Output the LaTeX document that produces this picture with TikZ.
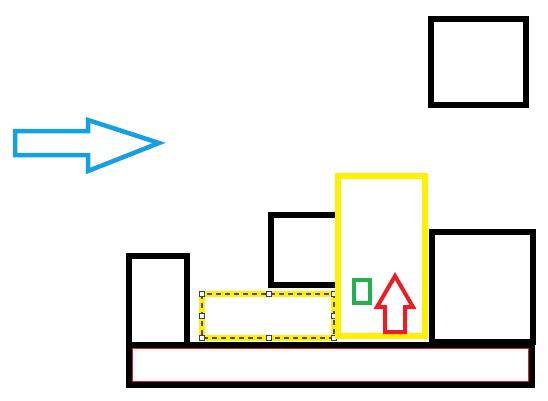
\documentclass[tikz,border=0pt]{standalone}
\definecolor{pblue}{RGB}{20,160,225}
\definecolor{pyellow}{RGB}{255,240,0}
\definecolor{pgreen}{RGB}{34,177,76}
\definecolor{pred}{RGB}{237,28,36}
\begin{document}
\begin{tikzpicture}[x=1pt,y=-1pt,
  blk/.style={draw=black,line width=6pt},
  handle/.style={draw=black!75,fill=white,line width=0.9pt,minimum size=5.5pt,inner sep=0pt,rectangle}]
\useasboundingbox (0,0) rectangle (548,400);
% blue arrow
\draw[pblue,line width=4.5pt,line join=miter] (15,131) -- (88,131) -- (88,120) -- (159,143) -- (88,171) -- (88,155) -- (15,155) -- cycle;
% top right square
\draw[blk] (431,19) rectangle (526,105);
% base bar
\draw[blk] (129,345) rectangle (532,385);
\draw[pred,line width=0.8pt] (132.5,348.5) rectangle (528.5,381.5);
% left box
\draw[blk] (129,256) rectangle (187,345);
% middle box
\draw[blk] (271,215) rectangle (338,285);
% right box
\draw[blk] (432,232) rectangle (533,342);
% dashed selection box
\draw[pyellow,line width=6pt] (202,294) rectangle (334,338);
\draw[black!70,line width=1.4pt,dash pattern=on 5pt off 4pt] (202,294) rectangle (334,338);
\foreach \hx/\hy [count=\i] in {202/294,269/294,334/294,202/316,334/316,202/338,269/338,334/338}
  \node[handle] (h\i) at (\hx,\hy) {};
% yellow tall box
\draw[pyellow,line width=6pt] (338,176) rectangle (425,336);
% green small rect
\draw[pgreen,line width=4.5pt] (354,280) rectangle (370,303);
% red arrow
\draw[pred,line width=4pt,line join=miter] (385,332) -- (385,307) -- (377,307) -- (395,276) -- (413,307) -- (405,307) -- (405,332) -- cycle;
\end{tikzpicture}
\end{document}
